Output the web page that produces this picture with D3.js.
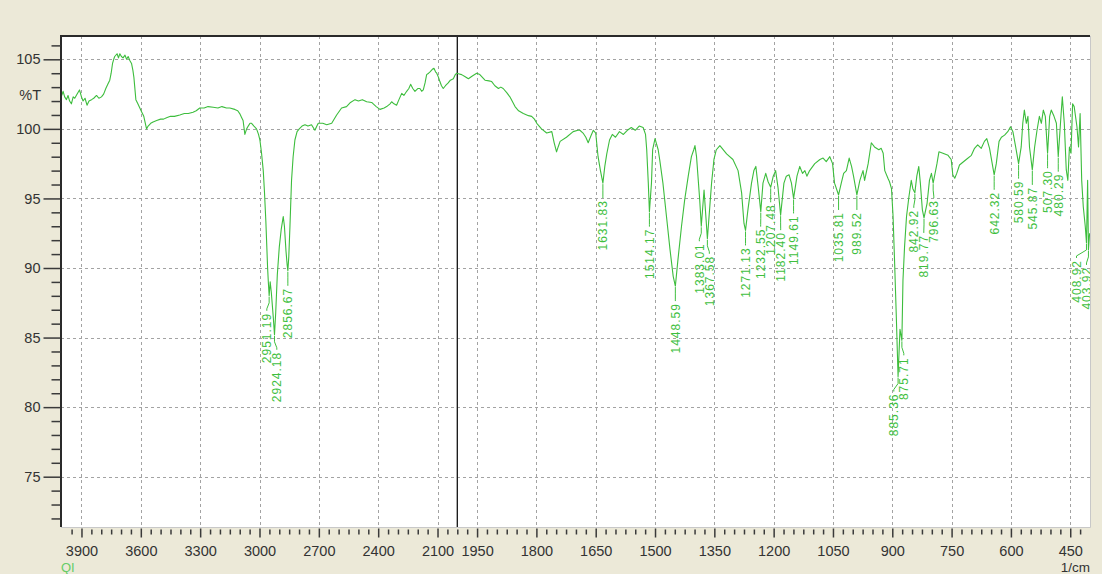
<!DOCTYPE html>
<html>
<head>
<meta charset="utf-8">
<script src="https://cdn.jsdelivr.net/npm/d3@7"></script>
<style>
  html, body { margin: 0; padding: 0; background: #ECE9D8; }
  svg { display: block; }
</style>
</head>
<body>
<svg id="chart" width="1102" height="574"></svg>
<script>
// IR transmittance spectrum: wavenumber (1/cm) and %T
const wavenumbers = [
  4000, 3993, 3985, 3976, 3968, 3960, 3951, 3942, 3934, 3922, 3910, 3900, 3892, 3882, 3872, 3862,
  3849, 3838, 3824, 3812, 3799, 3788, 3777, 3767, 3757, 3750, 3743, 3737, 3732, 3720, 3713, 3706,
  3698, 3690, 3680, 3672, 3664, 3655, 3647, 3640, 3635, 3625, 3615, 3605, 3595, 3585, 3571, 3563,
  3550, 3538, 3520, 3500, 3485, 3470, 3450, 3430, 3403, 3380, 3360, 3336, 3320, 3302, 3280, 3260,
  3234, 3210, 3190, 3167, 3150, 3125, 3110, 3100, 3090, 3083, 3074, 3065, 3057, 3048, 3040, 3028,
  3015, 3005, 2998, 2990, 2981, 2975, 2968, 2959, 2955, 2951.19, 2946, 2940, 2930, 2924.18, 2918, 2910,
  2900, 2890, 2880, 2874, 2866, 2860, 2856.67, 2852, 2846, 2838, 2830, 2821, 2810, 2799, 2785, 2770,
  2755, 2737, 2720, 2710, 2703, 2680, 2660, 2635, 2610, 2585, 2560, 2540, 2517, 2500, 2480, 2458,
  2433, 2410, 2391, 2370, 2357, 2340, 2332, 2320, 2307, 2295, 2281, 2270, 2256, 2245, 2236, 2225,
  2214, 2200, 2189, 2180, 2172, 2163, 2155, 2145, 2138, 2125, 2118, 2110, 2104, 2095, 2088, 2080,
  2071, 2060, 2046, 2035, 2020, 2010, 2003, 1995, 1989, 1980, 1972, 1962, 1951, 1943, 1930, 1920,
  1913, 1905, 1896, 1890, 1884, 1875, 1867, 1854, 1845, 1833, 1820, 1812, 1805, 1799, 1787, 1774,
  1761, 1755, 1749, 1745, 1740, 1724, 1707, 1695, 1690, 1682, 1675, 1669, 1662, 1656, 1650, 1644,
  1638, 1631.83, 1627, 1622, 1615, 1608, 1600, 1590, 1580, 1570, 1560, 1550, 1540, 1530, 1524, 1521,
  1517, 1514.17, 1509, 1506, 1500, 1492, 1488, 1480, 1471, 1462, 1454, 1448.59, 1442, 1433, 1425, 1416,
  1408, 1402, 1399, 1395, 1387, 1383.01, 1376, 1367.58, 1357, 1351, 1345, 1336, 1319, 1303, 1290, 1281,
  1275, 1271.13, 1265, 1256, 1250, 1245, 1239, 1232.55, 1227, 1220, 1214, 1207.48, 1201, 1195, 1189, 1182.40,
  1174, 1168, 1161, 1155, 1149.61, 1141, 1134, 1127, 1121, 1116, 1109, 1096, 1083, 1075, 1067, 1058,
  1051, 1046, 1035.81, 1029, 1023, 1016, 1009, 1003, 998, 989.52, 982, 974, 970, 961, 953, 945,
  934, 928, 923, 919, 911, 907, 902, 898, 894, 890, 885.36, 880.5, 875.71, 873, 869, 864,
  858, 852, 848, 842.92, 838, 833, 829, 824, 819.77, 812, 806, 801, 796.63, 787, 782, 772,
  759, 751, 747, 742, 737, 730, 713, 700, 692, 684, 675, 667, 661, 654, 642.32, 637,
  630, 624, 616, 608, 601, 595, 588, 580.59, 574, 570, 566, 561, 557, 553, 545.87, 540,
  534, 528, 523, 518, 513, 507.30, 502, 498, 491, 485, 480.29, 473, 470, 465, 460, 456,
  452, 448, 444, 440, 433, 429, 425, 421, 417, 412, 408.92, 406, 403.92, 401
];
const transmittance = [
  102.4, 102.7, 102.3, 102.1, 102.4, 102.0, 101.8, 102.3, 102.2, 102.5, 102.8, 102.3, 102.0, 102.2, 101.7, 102.0,
  102.1, 102.2, 102.4, 102.2, 102.3, 102.5, 102.9, 103.2, 103.5, 104.0, 104.7, 105.0, 105.2, 105.4, 105.1, 105.4,
  105.2, 105.1, 105.3, 105.0, 105.2, 104.9, 104.7, 104.2, 103.7, 102.1, 101.8, 101.5, 101.2, 100.9, 100.0, 100.2,
  100.4, 100.5, 100.6, 100.7, 100.7, 100.8, 100.9, 100.9, 101.0, 101.1, 101.1, 101.2, 101.3, 101.5, 101.5, 101.6,
  101.55, 101.5, 101.6, 101.5, 101.5, 101.4, 101.3, 101.1, 100.8, 100.6, 99.6, 100.0, 100.2, 100.4, 100.4, 100.2,
  100.0, 99.6, 99.2, 98.3, 97.0, 95.5, 93.4, 90.0, 88.9, 88.0, 89.0, 88.2, 86.4, 85.2, 86.8, 89.5,
  91.5, 92.8, 93.7, 93.0, 91.2, 90.2, 89.8, 90.8, 93.0, 96.3, 98.0, 99.2, 99.8, 100.0, 100.2, 100.3,
  100.2, 100.3, 99.9, 100.2, 100.4, 100.4, 100.3, 100.4, 101.0, 101.5, 101.6, 101.9, 102.1, 102.0, 102.1, 101.95,
  101.9, 101.6, 101.4, 101.5, 101.6, 101.8, 101.95, 101.8, 101.7, 102.1, 102.55, 102.4, 102.7, 102.9, 103.2, 102.9,
  102.7, 102.9, 102.9, 102.7, 102.8, 103.3, 103.9, 104.0, 104.1, 104.3, 104.35, 104.1, 104.0, 103.7, 103.4, 103.1,
  102.9, 103.1, 103.3, 103.5, 103.6, 103.9, 104.0, 103.95, 103.9, 103.75, 103.6, 103.8, 104.0, 103.9, 103.5, 103.45,
  103.4, 103.1, 102.9, 103.0, 102.9, 102.6, 102.3, 101.6, 101.3, 101.1, 100.95, 100.9, 100.7, 100.4, 100.0, 99.7,
  99.8, 99.0, 98.35, 98.7, 99.1, 99.4, 99.8, 99.9, 99.9, 99.7, 99.4, 99.0, 99.5, 99.9, 99.7, 98.0,
  97.0, 96.1, 97.3, 98.2, 99.2, 99.6, 99.4, 99.8, 99.6, 99.9, 100.1, 99.9, 100.2, 100.1, 99.6, 98.5,
  96.1, 94.05, 96.1, 98.5, 99.3, 98.5, 97.75, 96.1, 93.7, 91.3, 89.4, 88.7, 90.6, 93.0, 94.9, 96.6,
  98.0, 98.5, 98.8, 98.0, 94.9, 93.0, 95.6, 92.1, 96.1, 97.8, 98.5, 98.8, 98.2, 97.8, 97.0, 95.4,
  93.2, 92.7, 94.2, 96.1, 97.0, 97.3, 95.8, 94.05, 96.1, 96.8, 96.2, 95.8, 96.6, 97.0, 95.8, 93.8,
  96.1, 96.6, 96.7, 96.1, 95.0, 96.6, 97.3, 96.8, 97.0, 96.6, 97.0, 97.5, 97.8, 97.9, 97.65, 98.0,
  97.5, 96.1, 95.25, 96.1, 96.8, 97.0, 97.9, 97.3, 96.6, 95.25, 96.3, 97.0, 96.3, 97.5, 99.0, 98.7,
  98.5, 98.6, 98.25, 97.0, 96.45, 96.2, 95.7, 93.7, 90.3, 86.7, 82.2, 85.6, 84.8, 89.1, 91.5, 93.7,
  95.1, 96.3, 95.7, 95.4, 96.6, 97.3, 96.1, 94.2, 93.6, 94.65, 96.3, 96.8, 96.1, 97.5, 98.35, 98.25,
  98.1, 97.8, 96.7, 96.45, 96.8, 97.4, 97.8, 98.1, 98.6, 98.85, 98.6, 99.1, 99.3, 98.6, 96.7, 97.5,
  99.1, 99.4, 99.55, 99.8, 100.15, 99.8, 98.7, 97.5, 98.7, 100.4, 101.35, 100.4, 100.9, 98.7, 97.05, 98.7,
  99.9, 100.9, 100.4, 101.35, 100.9, 98.25, 100.9, 101.35, 100.9, 100.4, 98.0, 101.1, 102.3, 100.4, 97.05, 96.3,
  98.7, 98.25, 101.8, 101.6, 100.15, 98.7, 101.1, 96.3, 94.4, 93.0, 91.8, 96.3, 91.3, 92.5
];

// Labelled absorption bands (wavenumbers present in the series above)
const peakWavenumbers = [
  2951.19, 2924.18, 2856.67, 1631.83, 1514.17, 1448.59, 1383.01, 1367.58, 1271.13, 1232.55,
  1207.48, 1182.40, 1149.61, 1035.81, 989.52, 885.36, 875.71, 842.92, 819.77, 796.63,
  642.32, 580.59, 545.87, 507.30, 480.29, 408.92, 403.92
];

const xMajorTicks = [3900, 3600, 3300, 3000, 2700, 2400, 2100, 1950, 1800, 1650, 1500, 1350, 1200, 1050, 900, 750, 600, 450];
const yMajorTicks = [75, 80, 85, 90, 95, 100, 105];
const xUnitLabel = "1/cm";
const yUnitLabel = "%T";
const sampleName = "QI";

// ---- layout ----
const svg = d3.select("#chart");
const plot = { left: 61, top: 36, right: 1090, bottom: 527 };

// two-segment wavenumber axis: expanded below 2000 1/cm
const x = d3.scaleLinear().domain([4000, 2000, 400]).range([61.7, 457.3, 1090]);
const y = d3.scaleLinear().domain([75, 105]).range([476.7, 59.3]);

const spectrum = wavenumbers.map((w, i) => ({ w, t: transmittance[i] }));

// minor ticks: every 50 above 2000, every 25 below
const xMinorTicks = [];
for (let w = 3950; w >= 2000; w -= 50) if (!xMajorTicks.includes(w)) xMinorTicks.push(w);
for (let w = 1975; w >= 425; w -= 25) if (!xMajorTicks.includes(w)) xMinorTicks.push(w);
const yMinorTicks = d3.range(72, 107).filter(v => !yMajorTicks.includes(v));

// plot background
svg.append("rect")
  .attr("x", plot.left).attr("y", plot.top)
  .attr("width", plot.right - plot.left).attr("height", plot.bottom - plot.top)
  .attr("fill", "#ffffff");

// grid
const grid = svg.append("g").attr("stroke", "#a3a3a3").attr("stroke-width", 1).attr("stroke-dasharray", "3,3");
grid.selectAll("line.v").data(xMajorTicks).join("line")
  .attr("x1", d => Math.round(x(d)) + 0.5).attr("x2", d => Math.round(x(d)) + 0.5)
  .attr("y1", plot.top).attr("y2", plot.bottom);
grid.selectAll("line.h").data(yMajorTicks).join("line")
  .attr("x1", plot.left).attr("x2", plot.right)
  .attr("y1", d => Math.round(y(d)) + 0.5).attr("y2", d => Math.round(y(d)) + 0.5);

// cursor line at 2000 1/cm
svg.append("line")
  .attr("x1", x(2000)).attr("x2", x(2000))
  .attr("y1", plot.top).attr("y2", plot.bottom)
  .attr("stroke", "#111").attr("stroke-width", 1.3);

// frame
svg.append("path")
  .attr("d", `M${plot.left},${plot.bottom} V${plot.top} H${plot.right}`)
  .attr("fill", "none").attr("stroke", "#2a2a2a").attr("stroke-width", 2);
svg.append("path")
  .attr("d", `M${plot.right + 0.5},${plot.top} V${plot.bottom + 0.5} H${plot.left}`)
  .attr("fill", "none").attr("stroke", "#c8c8c8").attr("stroke-width", 1);

// axes
const axisFont = "'Liberation Sans', Arial, sans-serif";
function styleAxis(g) {
  g.select(".domain").remove();
  g.selectAll(".tick line").attr("stroke", "#3a3a3a").attr("stroke-width", 1.5);
  g.selectAll(".tick text").attr("fill", "#333").attr("font-family", axisFont).attr("font-size", 14.5);
}
svg.append("g").attr("transform", `translate(0,${plot.bottom + 1.5})`)
  .call(d3.axisBottom(x).tickValues(xMajorTicks).tickSize(9).tickPadding(8).tickFormat(d3.format("d")))
  .call(styleAxis);
svg.append("g").attr("transform", `translate(0,${plot.bottom + 2.5})`)
  .call(d3.axisBottom(x).tickValues(xMinorTicks).tickSize(5).tickFormat(""))
  .call(styleAxis);
svg.append("g").attr("transform", `translate(${plot.left - 0.5},0)`)
  .call(d3.axisLeft(y).tickValues(yMajorTicks).tickSize(17).tickPadding(3).tickFormat(d3.format("d")))
  .call(styleAxis);
svg.append("g").attr("transform", `translate(${plot.left - 0.5},0)`)
  .call(d3.axisLeft(y).tickValues(yMinorTicks).tickSize(9).tickFormat(""))
  .call(styleAxis);

svg.append("text").attr("x", 41).attr("y", 100).attr("text-anchor", "end")
  .attr("font-family", axisFont).attr("font-size", 14.5).attr("fill", "#333").text(yUnitLabel);
svg.append("text").attr("x", plot.right).attr("y", 571.5).attr("text-anchor", "end")
  .attr("font-family", axisFont).attr("font-size", 13.5).attr("fill", "#333").text(xUnitLabel);
svg.append("text").attr("x", 61).attr("y", 571.5)
  .attr("font-family", axisFont).attr("font-size", 13).attr("fill", "#66cc66").text(sampleName);

// spectrum trace
svg.append("clipPath").attr("id", "plot-clip").append("rect")
  .attr("x", plot.left + 1).attr("y", plot.top + 1)
  .attr("width", plot.right - plot.left - 1).attr("height", plot.bottom - plot.top - 1);
const lineGen = d3.line().x(d => x(d.w)).y(d => y(d.t));
svg.append("path").datum(spectrum)
  .attr("clip-path", "url(#plot-clip)")
  .attr("d", lineGen)
  .attr("fill", "none").attr("stroke", "#3dbd3d").attr("stroke-width", 1.1)
  .attr("stroke-linejoin", "round");

// peak labels: spread overlapping labels horizontally, keep inside frame
const peaks = peakWavenumbers.map(w => {
  const p = spectrum.find(d => d.w === w);
  return { w, t: p.t, px: x(w), py: y(p.t) };
}).sort((a, b) => a.px - b.px);
peaks.forEach(p => p.lx = p.px);
const minGap = 10;
const maxLx = plot.right - 3.5;
for (let iter = 0; iter < 200; iter++) {
  let moved = false;
  for (let i = 1; i < peaks.length; i++) {
    const a = peaks[i - 1], b = peaks[i];
    const d = b.lx - a.lx;
    if (d < minGap - 0.01) {
      const push = (minGap - d) / 2;
      a.lx -= push; b.lx += push; moved = true;
    }
  }
  for (let i = peaks.length - 1; i >= 0; i--) {
    const lim = i === peaks.length - 1 ? maxLx : peaks[i + 1].lx - minGap;
    if (peaks[i].lx > lim) { peaks[i].lx = lim; moved = true; }
  }
  if (!moved) break;
}

const labelColor = "#3fbf3f";
const labels = svg.append("g").attr("clip-path", "url(#plot-clip)");
labels.selectAll("path").data(peaks).join("path")
  .attr("d", p => `M${p.px},${p.py + 1} V${p.py + 7} L${p.lx},${p.py + 13} V${p.py + 15}`)
  .attr("fill", "none").attr("stroke", labelColor).attr("stroke-width", 1);
labels.selectAll("text").data(peaks).join("text")
  .attr("transform", p => `translate(${p.lx},${p.py + 17}) rotate(-90)`)
  .attr("text-anchor", "end").attr("dy", "0.36em")
  .attr("font-family", axisFont).attr("font-size", 12).attr("letter-spacing", 1)
  .attr("fill", labelColor)
  .text(p => p.w.toFixed(2));
</script>
</body>
</html>
